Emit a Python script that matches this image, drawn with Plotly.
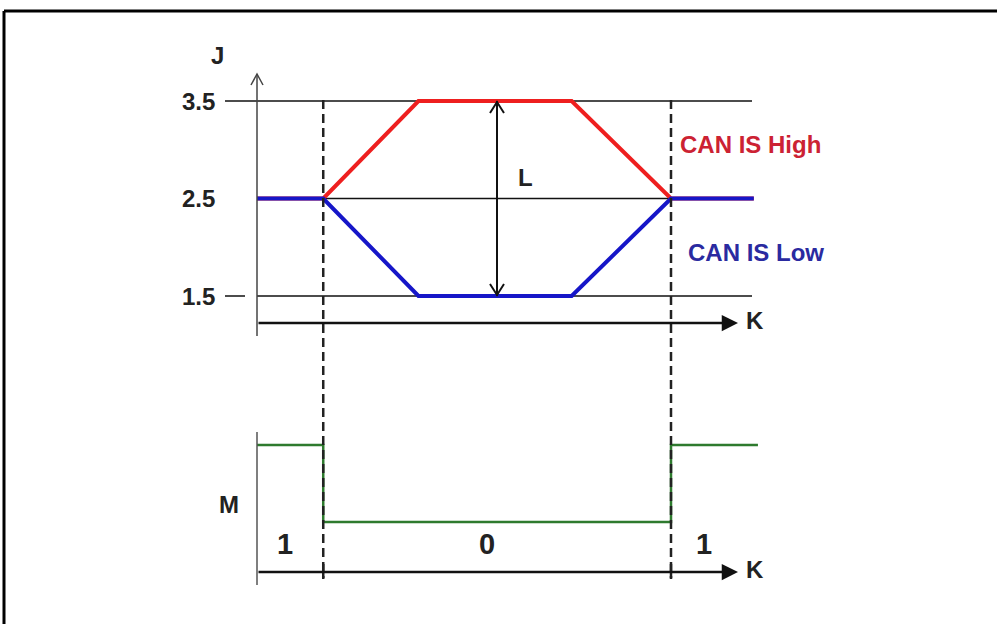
import plotly.graph_objects as go

# ---------------- data ----------------
t_points = [0, 16, 39, 76, 100, 120]          # time instants (bit edges / slope ends)
can_high = [2.5, 2.5, 3.5, 3.5, 2.5, 2.5]     # J, CAN high line
can_low = [2.5, 2.5, 1.5, 1.5, 2.5, 2.5]      # J, CAN low line
logic_t = [0, 16, 100, 121]                   # logic level change instants
logic_m = [1, 0, 1, 1]                        # logic level M
levels = [1.5, 2.5, 3.5]
level_labels = ["1.5", "2.5", "3.5"]
bit_edges = [16, 100]
bit_labels = ["1", "0", "1"]
series_names = ["CAN IS High", "CAN IS Low"]

W, H = 997, 624
S = 4.14      # px per time unit
X0 = 257      # px of t = 0


def PX(x):
    return x / W


def PY(y):
    return 1 - y / H


def T(px):
    return (px - X0) / S


FONT = "Liberation Sans, Arial, sans-serif"
RED = "#ee1f1f"
BLUE = "#1616c8"
GREEN = "#2e7a2e"

fig = go.Figure()

fig.add_trace(go.Scatter(x=t_points, y=can_high, mode="lines", name=series_names[0],
                         line=dict(color=RED, width=4), yaxis="y", showlegend=False))
fig.add_trace(go.Scatter(x=t_points, y=can_low, mode="lines", name=series_names[1],
                         line=dict(color=BLUE, width=4), yaxis="y", showlegend=False))
fig.add_trace(go.Scatter(x=logic_t, y=logic_m, mode="lines", name="M",
                         line=dict(color=GREEN, width=2.5, shape="hv"), yaxis="y2",
                         showlegend=False))

shapes = []
# frame
shapes.append(dict(type="line", xref="paper", yref="paper", x0=PX(4), x1=PX(997), y0=PY(11), y1=PY(11),
                   line=dict(color="black", width=3)))
shapes.append(dict(type="line", xref="paper", yref="paper", x0=PX(4), x1=PX(4), y0=PY(11), y1=PY(624),
                   line=dict(color="black", width=3)))
# level lines
for lv in levels:
    start = T(225) if lv == max(levels) else 0
    shapes.append(dict(type="line", xref="x", yref="y", x0=start, x1=T(752), y0=lv, y1=lv,
                       line=dict(color="#111", width=1.5), layer="below"))
# small dash next to lowest label
shapes.append(dict(type="line", xref="x", yref="y", x0=T(225), x1=T(245), y0=min(levels), y1=min(levels),
                   line=dict(color="#111", width=1.5)))
# J axis vertical + open arrow head
shapes.append(dict(type="line", xref="paper", yref="paper", x0=PX(257), x1=PX(257), y0=PY(74), y1=PY(336),
                   line=dict(color="#444", width=1.5)))
shapes.append(dict(type="path", xref="paper", yref="paper",
                   path=f"M {PX(251)} {PY(85)} L {PX(257)} {PY(74)} L {PX(263)} {PY(85)}",
                   line=dict(color="#444", width=1.5)))
# M axis vertical
shapes.append(dict(type="line", xref="paper", yref="paper", x0=PX(257), x1=PX(257), y0=PY(432), y1=PY(585),
                   line=dict(color="#555", width=1.5)))
# dashed bit boundaries
for be in bit_edges:
    shapes.append(dict(type="line", xref="x", yref="paper", x0=be, x1=be, y0=PY(100), y1=PY(578),
                       line=dict(color="#222", width=2.5, dash="9px,5px")))
    shapes.append(dict(type="line", xref="x", yref="paper", x0=be, x1=be, y0=PY(564), y1=PY(579),
                       line=dict(color="#222", width=2.5)))
# L double arrow (between dominant levels)
xl = T(497)
shapes.append(dict(type="line", xref="x", yref="y", x0=xl, x1=xl, y0=max(levels), y1=min(levels),
                   line=dict(color="#111", width=2)))
top_px = 101
bot_px = 296
shapes.append(dict(type="path", xref="paper", yref="paper",
                   path=f"M {PX(490)} {PY(top_px + 12)} L {PX(497)} {PY(top_px + 1)} L {PX(504)} {PY(top_px + 12)}",
                   line=dict(color="#111", width=2)))
shapes.append(dict(type="path", xref="paper", yref="paper",
                   path=f"M {PX(490)} {PY(bot_px - 12)} L {PX(497)} {PY(bot_px - 1)} L {PX(504)} {PY(bot_px - 12)}",
                   line=dict(color="#111", width=2)))

annotations = []
# K axes arrows
for yk in (323, 572):
    annotations.append(dict(xref="paper", yref="paper", x=PX(738), y=PY(yk), ax=-(738 - 257), ay=0,
                            showarrow=True, arrowhead=2, arrowsize=1.3, arrowwidth=2.5, arrowcolor="#111",
                            text="", standoff=0))
    annotations.append(dict(xref="paper", yref="paper", x=PX(744), y=PY(yk - 3), text="K", showarrow=False,
                            xanchor="left", yanchor="middle",
                            font=dict(family=FONT, size=24, color="#222", weight="bold")))
# level labels
for lv, lab in zip(levels, level_labels):
    annotations.append(dict(xref="paper", yref="y", x=PX(217), y=lv, text=lab, showarrow=False,
                            xanchor="right", yanchor="middle",
                            font=dict(family=FONT, size=24, color="#222", weight="bold")))
# letters
letters = [("J", 217, 55), ("L", 525, 177), ("M", 229, 504)]
for txt, x, y in letters:
    annotations.append(dict(xref="paper", yref="paper", x=PX(x), y=PY(y), text=txt, showarrow=False,
                            xanchor="center", yanchor="middle",
                            font=dict(family=FONT, size=24, color="#222", weight="bold")))
# series labels
annotations.append(dict(xref="paper", yref="paper", x=PX(678), y=PY(144), text=series_names[0],
                        showarrow=False, xanchor="left", yanchor="middle",
                        font=dict(family=FONT, size=24, color="#cc2233", weight="bold")))
annotations.append(dict(xref="paper", yref="paper", x=PX(686), y=PY(252), text=series_names[1],
                        showarrow=False, xanchor="left", yanchor="middle",
                        font=dict(family=FONT, size=24, color="#2a2aa0", weight="bold")))
# bit labels
for lab, x in zip(bit_labels, (285, 487, 704)):
    annotations.append(dict(xref="paper", yref="paper", x=PX(x), y=PY(544), text=lab, showarrow=False,
                            xanchor="center", yanchor="middle",
                            font=dict(family=FONT, size=29, color="#222", weight="bold")))

fig.update_layout(
    width=W, height=H,
    margin=dict(l=0, r=0, t=0, b=0),
    paper_bgcolor="white", plot_bgcolor="white",
    xaxis=dict(range=[T(0), T(W)], domain=[0, 1], visible=False, fixedrange=True),
    yaxis=dict(range=[3.5 - (H - 101) / 97.5, 3.5 + 101 / 97.5], domain=[0, 1], visible=False),
    yaxis2=dict(range=[1 - (H - 445) / 77, 1 + 445 / 77], domain=[0, 1], overlaying="y", visible=False),
    shapes=shapes,
    annotations=annotations,
    showlegend=False,
    hovermode=False,
)

fig.write_html("out.html",
               config={"displayModeBar": False},
               post_script="document.body.style.margin='0px';document.body.style.overflow='hidden';")
